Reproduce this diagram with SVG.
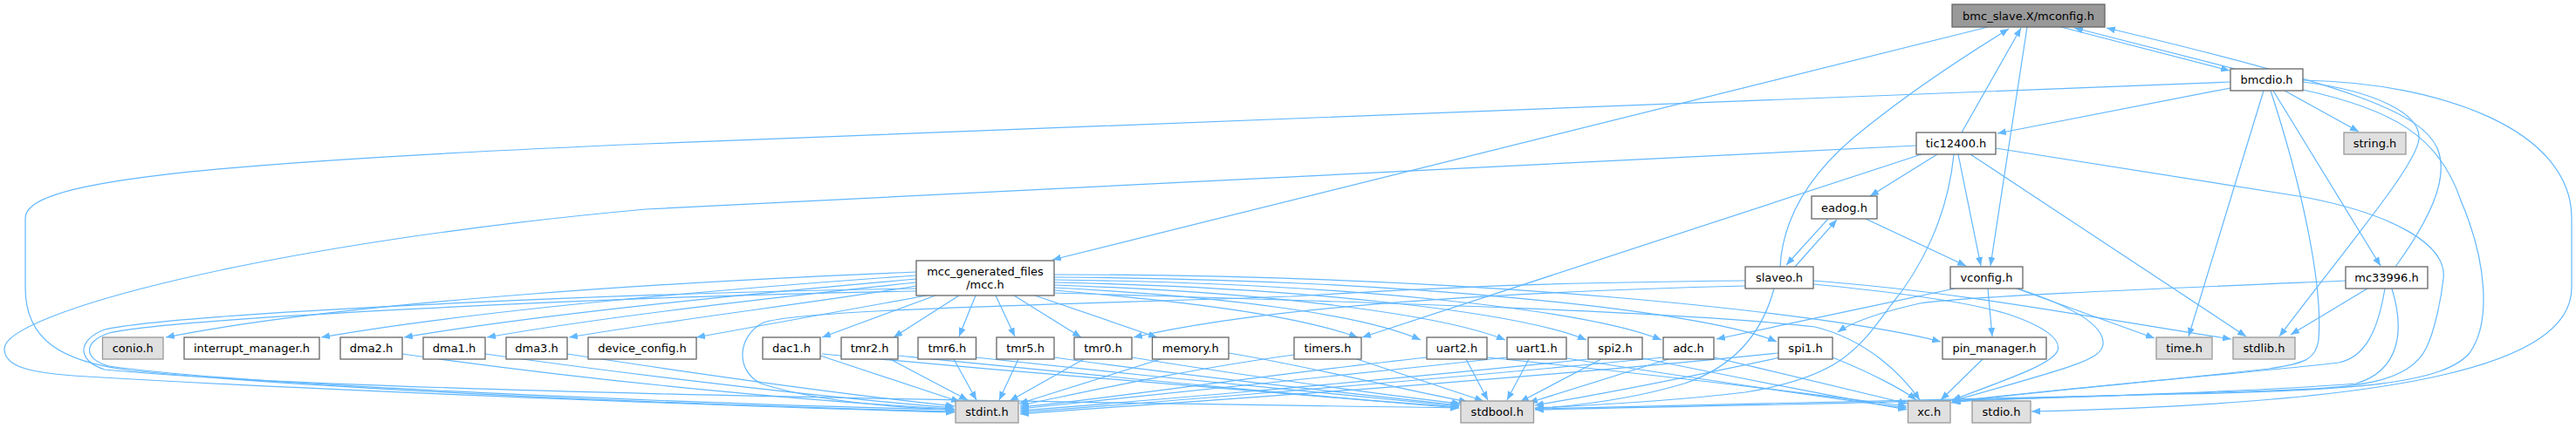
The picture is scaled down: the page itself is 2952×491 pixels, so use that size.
<svg xmlns="http://www.w3.org/2000/svg" width="2952" height="491" viewBox="0 0 2952 491">
<style>
.e{fill:none;stroke:#63b8ff;stroke-width:1.2;marker-end:url(#a)}
.n rect{fill:#ffffff;stroke:#666666;stroke-width:1.3}
.x rect{fill:#e0e0e0;stroke:#999999;stroke-width:1.3}
.r rect{fill:#999999;stroke:#666666;stroke-width:1.3}
text{font-family:"DejaVu Sans","Liberation Sans",sans-serif;font-size:13px;fill:#000000;text-anchor:middle}
</style>
<defs>
<marker id="a" viewBox="0 0 10 8" refX="10" refY="4" markerWidth="10" markerHeight="8" markerUnits="userSpaceOnUse" orient="auto">
<path d="M0,0 L10,4 L0,8 z" fill="#63b8ff"/>
</marker>
</defs>
<rect width="2952" height="491" fill="#ffffff"/>
<g id="connectors">
<path class="e" d="M2278,31 L1206,298"/>
<path class="e" d="M2362,31 L2555,81"/>
<path class="e" d="M2323,31 L2281,305"/>
<path class="e" d="M2561,79 L2377,32"/>
<path class="e" d="M2248,152 L2316,32"/>
<path class="e" d="M2040,306 C2043,250 2075,195 2140,145 C2190,105 2255,62 2302,33"/>
<path class="e" d="M2745,306 C2782,255 2808,205 2793,170 C2775,130 2700,100 2414,32"/>
<path class="e" d="M2556,101 L2289,153"/>
<path class="e" d="M2618,104 L2703,151"/>
<path class="e" d="M2594,104 L2508,386"/>
<path class="e" d="M2605,104 L2728,305"/>
<path class="e" d="M2639,94 C2720,104 2775,130 2772,160 C2768,190 2700,270 2612,386"/>
<path class="e" d="M2639,92 C2800,95 2947,150 2947,250 L2947,330 C2947,420 2750,462 2328,472"/>
<path class="e" d="M2602,104 C2640,220 2662,330 2657,390 C2654,413 2640,417 2600,423 C2450,440 2300,452 2236,462"/>
<path class="e" d="M2639,103 C2740,125 2795,155 2820,230 C2850,300 2855,370 2830,405 C2800,440 2700,448 2500,452 C2200,458 1900,466 1759,469"/>
<path class="e" d="M2556,94 L740,165 C200,188 29,210 29,250 L29,330 C29,390 70,415 150,425 C400,450 900,468 1094,472"/>
<path class="e" d="M2220,177 L2143,225"/>
<path class="e" d="M2202,177 L1561,387"/>
<path class="e" d="M2244,177 L2270,305"/>
<path class="e" d="M2258,177 L2574,386"/>
<path class="e" d="M2239,177 C2232,250 2200,310 2167,350 C2130,400 2110,432 2000,450 C1900,462 1800,466 1759,468"/>
<path class="e" d="M2196,167 L740,240 C300,280 5,360 5,400 C5,420 30,428 100,432 C400,450 900,468 1094,473"/>
<path class="e" d="M2287,170 L2640,226 C2740,245 2805,280 2800,320 C2797,345 2790,380 2780,400 C2760,440 2700,445 2600,448 C2400,455 2280,458 2237,461"/>
<path class="e" d="M2095,251 L2047,304"/>
<path class="e" d="M2057,306 L2105,252"/>
<path class="e" d="M2138,251 L2253,305"/>
<path class="e" d="M2033,331 C2020,380 1990,420 1930,440 C1870,458 1800,466 1759,469"/>
<path class="e" d="M2000,328 C1800,333 1480,345 1299,387"/>
<path class="e" d="M2000,322 C1800,324 1700,327 1480,340 C1200,350 920,355 875,370 C845,385 842,425 872,440 C940,462 1040,468 1094,470"/>
<path class="e" d="M2078,322 C2250,335 2400,365 2557,389"/>
<path class="e" d="M2078,326 C2150,333 2250,345 2300,360 C2345,375 2362,390 2358,402 C2352,418 2300,435 2237,459"/>
<path class="e" d="M2278,331 L2283,386"/>
<path class="e" d="M2311,331 L2469,388"/>
<path class="e" d="M2312,331 C2370,350 2412,372 2410,395 C2408,412 2380,420 2237,460"/>
<path class="e" d="M2240,331 C2150,350 2050,372 1967,389"/>
<path class="e" d="M2713,331 L2625,384"/>
<path class="e" d="M2688,322 C2500,330 2250,340 2200,348 C2160,357 2125,368 2106,381"/>
<path class="e" d="M2733,331 C2725,380 2710,410 2680,416 C2600,426 2350,446 2237,461"/>
<path class="e" d="M2741,331 C2756,380 2750,425 2700,440 C2500,456 2000,465 1759,470"/>
<path class="e" d="M2272,412 L2224,459"/>
<path class="e" d="M1050,312 C800,322 400,345 190,387"/>
<path class="e" d="M1050,316 C850,330 550,355 368,387"/>
<path class="e" d="M1050,320 C880,335 620,360 463,387"/>
<path class="e" d="M1050,324 C900,340 700,362 558,387"/>
<path class="e" d="M1050,328 C950,345 770,367 652,387"/>
<path class="e" d="M1062,339 L798,387"/>
<path class="e" d="M1072,339 L942,387"/>
<path class="e" d="M1099,339 L1024,387"/>
<path class="e" d="M1118,339 L1099,386"/>
<path class="e" d="M1141,339 L1163,386"/>
<path class="e" d="M1162,339 L1239,387"/>
<path class="e" d="M1186,339 L1326,387"/>
<path class="e" d="M1208,333 C1350,345 1480,360 1556,387"/>
<path class="e" d="M1208,330 C1400,340 1560,360 1628,390"/>
<path class="e" d="M1208,327 C1450,335 1650,360 1725,390"/>
<path class="e" d="M1208,324 C1500,330 1740,358 1818,390"/>
<path class="e" d="M1208,321 C1550,325 1820,356 1904,390"/>
<path class="e" d="M1208,318 C1600,320 1950,355 2036,392"/>
<path class="e" d="M1208,315 C1700,315 2100,360 2224,392"/>
<path class="e" d="M1208,336 C1500,345 1900,355 2080,375 C2140,390 2180,430 2200,459"/>
<path class="e" d="M1050,334 C700,340 200,365 125,382 C95,392 95,412 125,420 C300,445 900,466 1094,470"/>
<path class="e" d="M1050,331 C700,336 200,360 120,378 C88,390 88,414 120,424 C400,452 1300,462 1672,468"/>
<path class="e" d="M461,406 C700,440 950,462 1093,469"/>
<path class="e" d="M556,406 C760,435 970,458 1093,468"/>
<path class="e" d="M650,406 C820,432 990,455 1094,466"/>
<path class="e" d="M940,408 L1100,461"/>
<path class="e" d="M942,406 C1200,430 1500,455 1672,468"/>
<path class="e" d="M1020,412 L1109,459"/>
<path class="e" d="M1029,408 C1250,430 1500,455 1672,467"/>
<path class="e" d="M1093,412 L1119,459"/>
<path class="e" d="M1118,410 C1300,430 1550,455 1672,466"/>
<path class="e" d="M1167,412 L1145,459"/>
<path class="e" d="M1208,410 C1350,430 1580,455 1673,465"/>
<path class="e" d="M1242,412 L1157,460"/>
<path class="e" d="M1297,410 C1420,430 1600,455 1674,463"/>
<path class="e" d="M1330,412 L1168,463"/>
<path class="e" d="M1408,405 C1500,420 1620,450 1682,461"/>
<path class="e" d="M1483,407 C1350,425 1220,455 1169,465"/>
<path class="e" d="M1555,412 L1700,460"/>
<path class="e" d="M1635,410 C1450,430 1250,460 1169,467"/>
<path class="e" d="M1680,412 L1705,459"/>
<path class="e" d="M1704,410 C1900,430 2100,455 2185,466"/>
<path class="e" d="M1727,410 C1500,435 1250,462 1169,469"/>
<path class="e" d="M1752,412 L1727,459"/>
<path class="e" d="M1795,411 C1950,435 2100,458 2185,468"/>
<path class="e" d="M1820,412 C1550,440 1250,465 1169,471"/>
<path class="e" d="M1835,412 L1742,461"/>
<path class="e" d="M1882,411 C2000,435 2120,458 2185,470"/>
<path class="e" d="M1906,410 C1600,440 1250,467 1169,473"/>
<path class="e" d="M1912,412 L1752,462"/>
<path class="e" d="M1964,410 C2050,430 2150,455 2186,463"/>
<path class="e" d="M2038,405 C1700,440 1250,468 1169,475"/>
<path class="e" d="M2040,410 C1900,440 1800,458 1759,465"/>
<path class="e" d="M2100,410 C2150,430 2185,450 2196,459"/>
</g>
<g id="node_mconfig" class="r"><rect x="2237" y="5" width="175" height="26"/><text x="2324.5" y="22.5">bmc_slave.X/mconfig.h</text></g>
<g id="node_bmcdio" class="n"><rect x="2556" y="79" width="83" height="25"/><text x="2597.5" y="96">bmcdio.h</text></g>
<g id="node_tic12400" class="n"><rect x="2196" y="152" width="91" height="25"/><text x="2241.5" y="169">tic12400.h</text></g>
<g id="node_string" class="x"><rect x="2686" y="152" width="71" height="25"/><text x="2721.5" y="169">string.h</text></g>
<g id="node_eadog" class="n"><rect x="2076" y="225" width="75" height="26"/><text x="2113.5" y="242.5">eadog.h</text></g>
<g id="node_mcc" class="n"><rect x="1050" y="299" width="158" height="40"/><text x="1129" y="315.5">mcc_generated_files</text><text x="1129" y="330.5">/mcc.h</text></g>
<g id="node_slaveo" class="n"><rect x="2000" y="306" width="78" height="25"/><text x="2039" y="323">slaveo.h</text></g>
<g id="node_vconfig" class="n"><rect x="2235" y="306" width="83" height="25"/><text x="2276.5" y="323">vconfig.h</text></g>
<g id="node_mc33996" class="n"><rect x="2688" y="306" width="94" height="25"/><text x="2735" y="323">mc33996.h</text></g>
<g id="node_conio" class="x"><rect x="117.5" y="387" width="69.5" height="25"/><text x="152.25" y="404">conio.h</text></g>
<g id="node_interrupt_manager" class="n"><rect x="211" y="387" width="155" height="25"/><text x="288.5" y="404">interrupt_manager.h</text></g>
<g id="node_dma2" class="n"><rect x="390" y="387" width="71" height="25"/><text x="425.5" y="404">dma2.h</text></g>
<g id="node_dma1" class="n"><rect x="485" y="387" width="71" height="25"/><text x="520.5" y="404">dma1.h</text></g>
<g id="node_dma3" class="n"><rect x="580" y="387" width="70" height="25"/><text x="615" y="404">dma3.h</text></g>
<g id="node_device_config" class="n"><rect x="674" y="387" width="124" height="25"/><text x="736" y="404">device_config.h</text></g>
<g id="node_dac1" class="n"><rect x="874" y="387" width="66" height="25"/><text x="907" y="404">dac1.h</text></g>
<g id="node_tmr2" class="n"><rect x="964" y="387" width="65" height="25"/><text x="996.5" y="404">tmr2.h</text></g>
<g id="node_tmr6" class="n"><rect x="1052" y="387" width="66.5" height="25"/><text x="1085.25" y="404">tmr6.h</text></g>
<g id="node_tmr5" class="n"><rect x="1142" y="387" width="66" height="25"/><text x="1175" y="404">tmr5.h</text></g>
<g id="node_tmr0" class="n"><rect x="1231" y="387" width="66" height="25"/><text x="1264" y="404">tmr0.h</text></g>
<g id="node_memory" class="n"><rect x="1320.5" y="387" width="87.5" height="25"/><text x="1364.25" y="404">memory.h</text></g>
<g id="node_timers" class="n"><rect x="1483" y="387" width="77" height="25"/><text x="1521.5" y="404">timers.h</text></g>
<g id="node_uart2" class="n"><rect x="1635" y="387" width="69" height="25"/><text x="1669.5" y="404">uart2.h</text></g>
<g id="node_uart1" class="n"><rect x="1727" y="387" width="68" height="25"/><text x="1761" y="404">uart1.h</text></g>
<g id="node_spi2" class="n"><rect x="1820" y="387" width="62" height="25"/><text x="1851" y="404">spi2.h</text></g>
<g id="node_adc" class="n"><rect x="1906" y="387" width="58" height="25"/><text x="1935" y="404">adc.h</text></g>
<g id="node_spi1" class="n"><rect x="2038" y="387" width="62" height="25"/><text x="2069" y="404">spi1.h</text></g>
<g id="node_pin_manager" class="n"><rect x="2226" y="387" width="119" height="25"/><text x="2285.5" y="404">pin_manager.h</text></g>
<g id="node_time" class="x"><rect x="2471" y="387" width="64" height="25"/><text x="2503" y="404">time.h</text></g>
<g id="node_stdlib" class="x"><rect x="2559" y="387" width="71" height="25"/><text x="2594.5" y="404">stdlib.h</text></g>
<g id="node_stdint" class="x"><rect x="1095" y="460" width="72" height="25"/><text x="1131" y="477">stdint.h</text></g>
<g id="node_stdbool" class="x"><rect x="1674" y="460" width="83.5" height="25"/><text x="1715.75" y="477">stdbool.h</text></g>
<g id="node_xc" class="x"><rect x="2186.5" y="460" width="48.5" height="25"/><text x="2210.75" y="477">xc.h</text></g>
<g id="node_stdio" class="x"><rect x="2260" y="460" width="67" height="25"/><text x="2293.5" y="477">stdio.h</text></g>
</svg>
